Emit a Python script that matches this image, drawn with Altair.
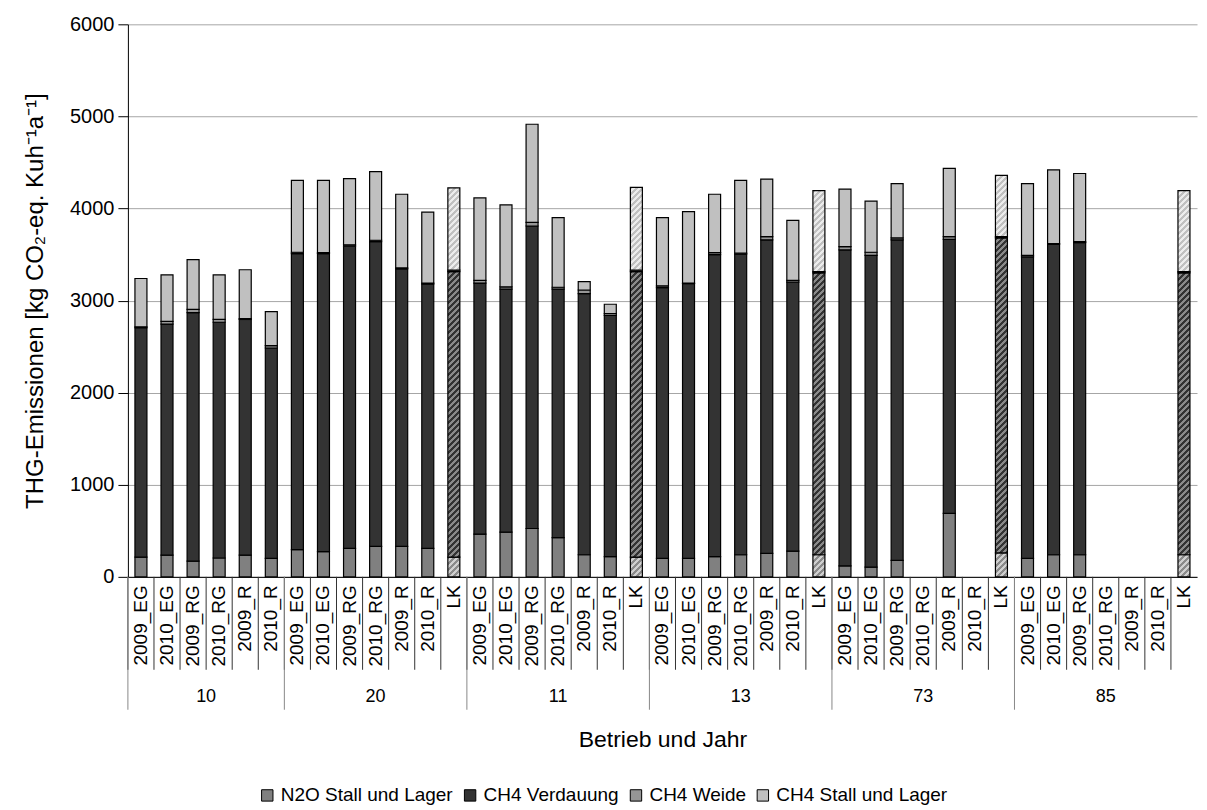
import math
import altair as alt
import pandas as pd

# ---------------- data ----------------
groups = ["10", "20", "11", "13", "73", "85"]
labels_10 = ["2009_EG", "2010_EG", "2009_RG", "2010_RG", "2009_R", "2010_R"]
labels_lk = labels_10 + ["LK"]

series = ["N2O Stall und Lager", "CH4 Verdauung", "CH4 Weide", "CH4 Stall und Lager"]
colors = ["#808080", "#333333", "#969696", "#c0c0c0"]

# order of slots: group 10 (6), then 20, 11, 13, 73, 85 (7 each incl. LK)
n2o = [215, 235, 170, 205, 235, 200,
       295, 275, 310, 330, 330, 310, 215,
       465, 485, 525, 425, 240, 220, 215,
       200, 200, 220, 240, 255, 280, 240,
       120, 105, 180, None, 690, None, 260,
       200, 240, 240, None, None, None, 240]
verdauung = [2490, 2510, 2700, 2560, 2560, 2285,
             3215, 3235, 3280, 3310, 3015, 2870, 3100,
             2725, 2640, 3285, 2700, 2835, 2620, 3100,
             2940, 2985, 3280, 3265, 3405, 2920, 3060,
             3430, 3385, 3480, None, 2975, None, 3420,
             3275, 3370, 3390, None, None, None, 3060]
weide = [10, 30, 35, 30, 10, 25,
         15, 10, 15, 15, 10, 10, 15,
         30, 25, 40, 20, 40, 20, 15,
         20, 5, 20, 10, 35, 20, 15,
         35, 35, 20, None, 30, None, 15,
         15, 10, 10, None, None, None, 15]
stall = [525, 505, 540, 485, 530, 370,
         780, 785, 720, 745, 800, 770, 895,
         895, 890, 1065, 755, 90, 100, 900,
         740, 775, 635, 790, 625, 650, 880,
         625, 555, 590, None, 740, None, 665,
         780, 800, 740, None, None, None, 880]

# ---------------- layout constants ----------------
W, H = 1070, 553
BAR = 12
YMAX = 6000

keys = []
key_group = []
for g in groups:
    for lab in (labels_10 if g == "10" else labels_lk):
        keys.append(f"{g}|{lab}")
        key_group.append(g)

rows = []
for i, k in enumerate(keys):
    for j, (s, arr) in enumerate(zip(series, [n2o, verdauung, weide, stall])):
        v = arr[i]
        if v is None:
            continue
        rows.append({"key": k, "group": key_group[i], "series": s, "ord": j,
                     "value": v, "lk": k.endswith("|LK")})
df = pd.DataFrame(rows)

xscale = alt.Scale(domain=keys, paddingInner=0, paddingOuter=0)
yscale = alt.Scale(domain=[0, YMAX])

x_axis = alt.Axis(
    title="Betrieb und Jahr", titleFontSize=23, titleFontWeight="normal",
    titleColor="black", titleY=163, titleBaseline="middle",
    labelExpr="split(datum.value, '|')[1]", labelAngle=270, labelFontSize=19,
    labelColor="black", labelPadding=8, ticks=False,
    domainColor="black", domainWidth=1, grid=False,
)
y_axis = alt.Axis(
    title="THG-Emissionen [kg CO₂-eq. Kuh⁻¹a⁻¹]", titleFontSize=24,
    titleFontWeight="normal", titleColor="black", titlePadding=22,
    values=[0, 1000, 2000, 3000, 4000, 5000, 6000], format="d",
    labelFontSize=20, labelColor="black", labelPadding=4, tickSize=10,
    tickColor="black", domainColor="black", gridColor="#a6a6a6", gridWidth=1,
)


def xenc(bp=None):
    kw = {}
    if bp is not None:
        kw["bandPosition"] = bp
    return alt.X("key:N", scale=xscale, axis=x_axis, **kw)


def yenc():
    return alt.Y("y0:Q", scale=yscale, axis=y_axis)


base = alt.Chart(df).transform_stack(
    stack="value", groupby=["key"], as_=["y0", "y1"],
    sort=[alt.SortField("ord", order="ascending")]
)

bars = base.transform_filter("!datum.lk").mark_bar(
    size=BAR, stroke="black", strokeWidth=1.2
).encode(
    x=xenc(),
    y=yenc(),
    y2="y1:Q",
    fill=alt.Fill(
        "series:N",
        scale=alt.Scale(domain=series, range=colors),
        sort=series,
        legend=alt.Legend(
            orient="none", legendX=130, legendY=762, direction="horizontal",
            title=None, symbolType="square", symbolSize=130,
            symbolStrokeColor="black", symbolStrokeWidth=1,
            labelFontSize=19, labelColor="black", columnPadding=7,
            labelOffset=4, labelLimit=0,
        ),
    ),
)

hatch_colors = {
    0: ("#8a8a8a", "#cfcfcf"),
    1: ("#333333", "#8a8a8a"),
    3: ("#c0c0c0", "#ececec"),
}


def hatch(w, h, c1, c2, period=6.0):
    L = w + h
    s = L / (w * w + h * h)
    stops = []
    n = int(math.ceil(L / period))
    for i in range(n):
        a = min(i * period / L, 1.0)
        b = min((i + 0.5) * period / L, 1.0)
        c = min((i + 1) * period / L, 1.0)
        stops += [(a, c1), (b, c1), (b, c2), (c, c2)]
    return alt.LinearGradient(
        gradient="linear",
        stops=[alt.GradientStop(offset=o, color=col) for o, col in stops],
        x1=0, y1=0, x2=s * w, y2=s * h,
    )


lk_layers = []
for r in rows:
    if not r["lk"]:
        continue
    j = r["ord"]
    if j in hatch_colors:
        hpx = r["value"] * H / YMAX
        fill = hatch(BAR, hpx, *hatch_colors[j])
    else:
        fill = colors[j]
    lk_layers.append(
        base.transform_filter(
            f"datum.key == '{r['key']}' && datum.ord == {j}"
        ).mark_bar(size=BAR, stroke="black", strokeWidth=1.2, fill=fill).encode(
            x=xenc(), y=yenc(), y2="y1:Q"
        )
    )

keys_df = pd.DataFrame({"key": keys, "group": key_group})
first_keys = keys_df.drop_duplicates("group")
cat_rules = alt.Chart(keys_df).mark_rule(color="#333333", strokeWidth=1).encode(
    x=xenc(bp=0), y=alt.value(H), y2=alt.value(H + 93)
)
grp_rules = alt.Chart(first_keys).mark_rule(color="#888888", strokeWidth=1).encode(
    x=xenc(bp=0), y=alt.value(H), y2=alt.value(H + 133)
)

centers7 = pd.DataFrame({"group": groups[1:], "key": [f"{g}|2010_RG" for g in groups[1:]]})
centers6 = pd.DataFrame({"group": ["10"], "key": ["10|2010_RG"]})
glab7 = alt.Chart(centers7).mark_text(fontSize=18, baseline="middle", color="black").encode(
    x=xenc(), y=alt.value(673), text="group:N"
)
glab6 = alt.Chart(centers6).mark_text(fontSize=18, baseline="middle", color="black").encode(
    x=xenc(bp=0), y=alt.value(673), text="group:N"
)

chart = alt.layer(bars, *lk_layers, cat_rules, grp_rules, glab7, glab6).properties(
    width=W, height=H,
    padding={"left": 120, "top": 16, "right": 2, "bottom": 228},
    autosize=alt.AutoSizeParams(type="none"),
).configure(
    font="Liberation Sans",
    view=alt.ViewConfig(stroke=None),
)

chart.save("out.html", embed_options={"renderer": "svg", "actions": False})
